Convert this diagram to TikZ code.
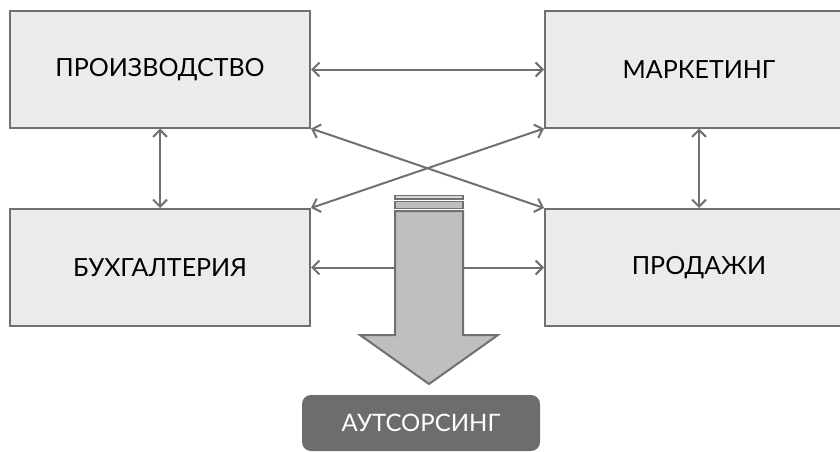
\documentclass[tikz,border=0pt]{standalone}
\usepackage{fontspec}
\setmainfont{Lato}
\usepackage{tikz}
\usetikzlibrary{arrows.meta,positioning}
\definecolor{of-line}{HTML}{707070}
\definecolor{of-box}{HTML}{EBEBEB}
\definecolor{of-arrow}{HTML}{BFBFBF}
\definecolor{of-dark}{HTML}{6D6D6D}

\begin{document}
\begin{tikzpicture}[x=1pt,y=-1pt,
    dept/.style={draw=of-line,fill=of-box,line width=2pt,minimum width=300pt,
      minimum height=116pt,inner sep=0pt,font=\fontsize{25}{30}\selectfont},
    link/.style={draw=of-line,line width=2pt,{Straight Barb[length=7pt,width=14pt]}-{Straight Barb[length=7pt,width=14pt]}}]
  \useasboundingbox (0,0) rectangle (840,452);
  \clip (0,0) rectangle (840,452);
  \node[dept] (prod) at (160,69.5) {ПРОИЗВОДСТВО};
  \node[dept,minimum width=308pt] (mark) at (699,69.5) {МАРКЕТИНГ};
  \node[dept,minimum height=117pt] (buh) at (160,267.5) {БУХГАЛТЕРИЯ};
  \node[dept,minimum width=308pt,minimum height=117pt] (sales) at (699,267.5) {ПРОДАЖИ};
  % connectors
  \draw[link] (prod.east) -- (mark.west);
  \draw[link] (prod.south) -- (buh.north);
  \draw[link] (mark.south) -- (sales.north);
  \draw[link] (prod.south east) -- (sales.north west);
  \draw[link] (mark.south west) -- (buh.north east);
  \draw[link] (buh.east) -- (sales.west);
  % big arrow
  \draw[of-line,fill=of-arrow,line width=2pt,line join=miter]
    (395,211) -- (463,211) -- (463,335) -- (498,335) -- (429,384)
    -- (360,335) -- (395,335) -- cycle;
  \draw[of-line,fill=of-arrow,line width=1.5pt] (395,201.5) rectangle (463,208.5);
  \draw[of-line,fill=of-arrow!60,line width=1.5pt] (395,195.5) rectangle (463,199);
  \node[fill=of-dark,rounded corners=9pt,minimum width=238pt,minimum height=56pt,
    text=white,font=\fontsize{24}{28}\selectfont] (out) at (421,423) {АУТСОРСИНГ};
\end{tikzpicture}
\end{document}
